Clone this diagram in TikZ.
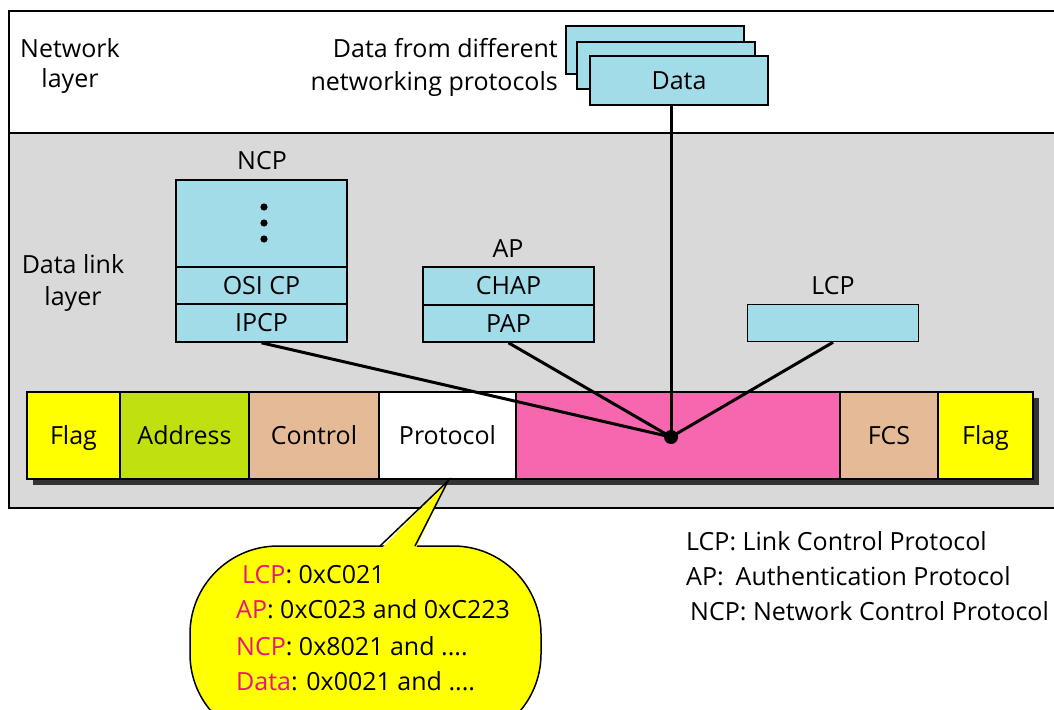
\documentclass[tikz,border=0pt]{standalone}
\usepackage{fontspec}
\setmainfont{Open Sans}
\usetikzlibrary{calc}

\definecolor{boxblue}{RGB}{163,220,233}
\definecolor{layergray}{RGB}{217,217,217}
\definecolor{flagyellow}{RGB}{255,255,0}
\definecolor{addrgreen}{RGB}{192,224,16}
\definecolor{ctrltan}{RGB}{228,187,150}
\definecolor{payloadpink}{RGB}{246,103,176}
\definecolor{shadowgray}{RGB}{51,51,51}
\definecolor{keymag}{RGB}{232,20,128}

\tikzset{
  lbl/.style={font=\fontsize{25}{30}\selectfont, inner sep=0pt},
  capc/.style={lbl, text height=17.5pt, text depth=0pt},
  field/.style={capc, draw=black, line width=1.6pt, minimum height=87pt},
  pbox/.style={capc, draw=black, line width=1.6pt, fill=boxblue, minimum width=171pt},
  conn/.style={line width=3pt, black},
  layerbox/.style={draw=black, line width=1.8pt},
}

\begin{document}
\begin{tikzpicture}[x=1pt, y=-1pt]
\useasboundingbox (0,0) rectangle (1054,709);
\clip (0,0) rectangle (1054,709);
\fill[white] (0,0) rectangle (1054,709);

% the two layers
\draw[layerbox, fill=white] (9,11) rectangle (1070,133);
\draw[layerbox, fill=layergray] (9,133) rectangle (1070,508);

\node[lbl, anchor=base] (netl1) at (70,57) {Network};
\node[lbl, anchor=base] (netl2) at (70,88) {layer};
\node[lbl, anchor=base] (dll1) at (73,273) {Data link};
\node[lbl, anchor=base] (dll2) at (73,305) {layer};

% stacked data units from the network layer
\node[pbox, minimum width=178pt, minimum height=48pt] (databack) at (655,50) {};
\node[pbox, minimum width=178pt, minimum height=47pt] (datamid) at (666,65.5) {};
\node[pbox, minimum width=178pt, minimum height=49pt] (data) at (679,80.5) {Data};
\node[lbl, anchor=base east] (src1) at (558,57) {Data from different};
\node[lbl, anchor=base east] (src2) at (558,90) {networking protocols};

% NCP stack
\node[pbox, minimum height=87pt] (ncpdots) at (261.5,223.5) {};
\node[pbox, minimum height=37pt] (osicp) at (261.5,285.5) {OSI CP};
\node[pbox, minimum height=38pt] (ipcp) at (261.5,323) {IPCP};
\node[lbl, anchor=base] (ncplbl) at (262,169) {NCP};
\foreach \yy in {207,223,239}
  \fill (264,\yy) circle (3.6pt);

% AP stack
\node[pbox, minimum height=38pt] (chap) at (508.5,286) {CHAP};
\node[pbox, minimum height=37pt] (pap) at (508.5,323.5) {PAP};
\node[lbl, anchor=base] (aplbl) at (508,257) {AP};

% LCP
\node[pbox, minimum height=37pt] (lcp) at (833,323) {};
\node[lbl, anchor=base] (lcplbl) at (833,294) {LCP};

% PPP frame with its shadow
\fill[shadowgray] (33,398) rectangle (1039,485);
\node[field, fill=flagyellow, minimum width=93pt] (flag1) at (73.5,435.5) {Flag};
\node[field, fill=addrgreen, minimum width=129pt] (addr) at (184.5,435.5) {Address};
\node[field, fill=ctrltan, minimum width=130pt] (ctrl) at (314,435.5) {Control};
\node[field, fill=white, minimum width=137pt] (proto) at (447.5,435.5) {Protocol};
\node[field, fill=payloadpink, minimum width=324pt] (payload) at (678,435.5) {};
\node[field, fill=ctrltan, minimum width=98pt] (fcs) at (889,435.5) {FCS};
\node[field, fill=flagyellow, minimum width=95pt] (flag2) at (985.5,435.5) {Flag};

% everything carried in the payload
\coordinate (hub) at (671,437);
\draw[conn] (ipcp.south) -- (hub);
\draw[conn] (pap.south) -- (hub);
\draw[conn] (lcp.south) -- (hub);
\draw[conn] (hub |- data.south) -- (hub);
\fill (hub) circle (7pt);

% callout with protocol field values
\coordinate (tip) at (448,481);
\coordinate (tailA) at (380,546);
\coordinate (tailB) at (415,546);
\draw[line width=1.5pt, fill=flagyellow, rounded corners=88pt] (190,546) rectangle (541,742);
\fill[flagyellow] ($(tailA)+(0,4)$) -- (tip) -- ($(tailB)+(0,4)$) -- cycle;
\draw[line width=1.5pt, line join=miter] (tailA) -- (tip) -- (tailB);
\node[lbl, anchor=base west] (v1) at (242,583) {\textcolor{keymag}{LCP}: 0xC021};
\node[lbl, anchor=base west] (v2) at (236,618) {\textcolor{keymag}{AP}: 0xC023 and 0xC223};
\node[lbl, anchor=base west] (v3) at (236,655) {\textcolor{keymag}{NCP}: 0x8021 and ....};
\node[lbl, anchor=base west] (v4) at (236,690) {\textcolor{keymag}{Data}: 0x0021 and ....};

% key
\node[lbl, anchor=base west] (k1) at (686,550) {LCP: Link Control Protocol};
\node[lbl, anchor=base west] (k2) at (686,585) {AP:\hspace{12pt}Authentication Protocol};
\node[lbl, anchor=base west] (k3) at (690,620) {NCP: Network Control Protocol};
\end{tikzpicture}
\end{document}
